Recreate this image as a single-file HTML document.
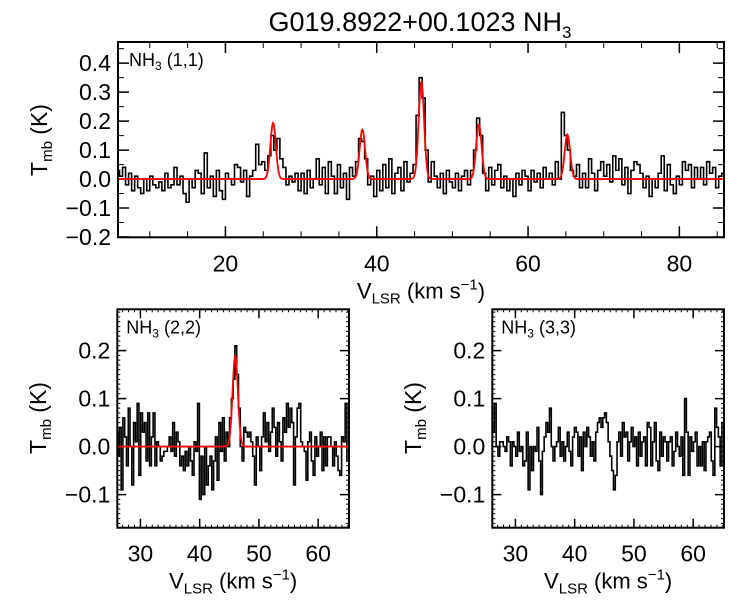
<!DOCTYPE html>
<html><head><meta charset="utf-8"><style>
body{margin:0;background:#fff}
svg{display:block}
text{font-family:"Liberation Sans",Arial,sans-serif;fill:#000}
</style></head><body>
<svg id="c" width="750" height="600" viewBox="0 0 750 600">
<text x="420" y="31" font-size="27" text-anchor="middle">G019.8922+00.1023 NH<tspan font-size="17" dy="7">3</tspan></text>
</svg>
<script>
// ---- data ----
const topStart = 5.8, topStep = 0.4;
const topSpec = [0.03,0.01,0.04,-0.02,0.02,-0.04,0.01,-0.03,-0.05,0.00,-0.04,0.01,-0.02,-0.03,-0.01,-0.04,0.02,-0.03,-0.02,0.04,
-0.02,0.01,-0.05,-0.08,0.00,-0.03,0.03,0.02,-0.05,0.09,-0.03,0.01,-0.06,0.03,-0.04,-0.07,0.02,0.00,-0.02,0.05,
0.04,-0.01,0.03,-0.06,0.01,0.03,0.12,0.05,0.06,0.03,0.08,0.15,0.10,0.14,0.07,0.04,-0.02,0.01,-0.01,0.02,
-0.04,0.02,-0.05,0.03,-0.03,0.00,0.07,-0.02,0.04,-0.05,0.06,0.01,-0.05,0.05,-0.03,0.02,-0.07,0.04,0.01,0.06,
0.14,0.13,0.07,-0.02,0.01,-0.06,0.03,-0.04,0.05,-0.03,0.07,-0.05,0.02,0.04,-0.04,0.06,-0.01,0.02,0.05,0.22,
0.35,0.28,0.10,-0.01,0.06,0.01,-0.03,0.02,-0.05,0.03,-0.01,-0.03,0.02,-0.04,0.01,0.03,-0.02,0.03,0.10,0.21,
0.15,0.02,-0.04,0.04,-0.02,0.03,0.05,-0.03,0.01,-0.04,0.00,-0.06,0.02,-0.02,0.03,0.01,-0.04,0.03,-0.01,0.02,
-0.03,0.04,0.00,0.02,-0.02,0.06,0.00,0.23,0.15,0.10,0.03,0.01,0.05,-0.03,0.02,-0.03,0.07,0.02,-0.04,0.03,
0.06,0.01,0.05,-0.01,0.08,0.03,0.07,-0.02,0.04,-0.05,0.03,0.06,0.05,0.02,-0.03,0.01,-0.06,0.00,-0.03,0.02,
0.08,-0.04,0.05,-0.02,-0.05,0.01,-0.02,0.06,0.03,0.05,-0.03,0.04,0.00,0.04,-0.02,0.06,0.02,0.04,-0.03,0.01,0.02];
const topFitCenters = [26.3, 38.1, 45.9, 53.5, 65.2];
const topFitAmps = [0.194, 0.171, 0.336, 0.189, 0.154];
const topFitSigma = 0.36;

const botStart = 26.0, botStep = 0.3;
const spec22 = [0.03,-0.02,0.04,-0.09,0.06,0.02,-0.04,0.08,0.00,-0.08,0.05,0.01,0.09,-0.06,0.07,0.03,0.05,-0.03,0.07,-0.04,
0.02,0.07,-0.04,0.01,0.00,-0.03,-0.02,-0.01,-0.01,0.00,0.02,-0.01,0.05,-0.02,0.03,0.01,-0.04,-0.02,-0.05,-0.01,
-0.04,0.00,-0.03,-0.06,0.01,-0.01,0.09,-0.11,-0.02,-0.10,0.00,-0.08,-0.04,-0.02,-0.09,-0.03,0.02,-0.07,0.05,-0.01,
0.06,-0.03,0.03,0.00,0.06,0.10,0.14,0.21,0.15,0.08,0.00,-0.03,0.04,0.03,0.02,0.03,0.01,-0.02,-0.08,0.02,
0.00,-0.05,0.02,0.07,0.01,0.05,-0.01,0.03,0.08,0.04,-0.02,0.05,0.01,-0.03,0.06,0.03,0.09,0.04,0.08,0.05,
-0.08,0.02,0.08,0.09,0.01,0.00,-0.01,-0.07,0.01,0.03,-0.03,-0.06,0.02,-0.02,0.00,0.03,-0.05,0.02,-0.04,0.02,
0.02,0.00,-0.04,0.01,-0.02,-0.05,-0.06,0.02,0.01,0.09,-0.03];
const fit22Centers = [46.0];
const fit22Amps = [0.189];
const fit22Sigma = 0.45;
const spec33 = [0.05,0.03,0.09,0.00,-0.02,0.01,0.01,0.00,-0.01,0.02,0.01,-0.04,0.01,0.00,-0.02,0.03,-0.01,0.00,-0.04,-0.03,
0.03,-0.09,0.00,-0.05,0.00,-0.01,0.04,-0.03,-0.10,-0.01,0.02,0.05,0.03,0.08,0.00,-0.03,0.00,0.01,0.04,-0.02,
0.01,-0.03,0.00,0.03,-0.01,-0.04,0.02,0.04,0.03,-0.02,0.02,-0.05,0.03,0.00,0.04,0.02,-0.02,0.01,-0.03,0.03,
0.05,0.06,0.04,0.06,0.07,0.05,0.01,-0.02,-0.05,-0.09,-0.06,0.01,0.03,-0.02,0.05,0.02,0.03,-0.03,0.01,0.04,
0.00,0.02,-0.04,0.03,-0.02,0.01,0.02,-0.04,0.05,0.04,-0.04,0.01,0.05,-0.03,-0.05,0.03,-0.02,0.02,0.01,-0.03,
0.01,0.02,-0.04,-0.01,0.03,0.00,-0.02,0.02,-0.06,0.10,0.03,-0.06,0.02,-0.01,0.01,0.03,-0.04,0.00,-0.04,0.01,
-0.05,0.01,0.02,0.03,-0.03,-0.06,0.08,0.04,0.02,-0.04,0.05];
const topXTicks = [20, 40, 60, 80];
const topYTicks = [-0.2, -0.1, 0.0, 0.1, 0.2, 0.3, 0.4];
const botXTicks = [30, 40, 50, 60];
const botYTicks = [-0.1, 0.0, 0.1, 0.2];

// ---- drawing ----
const svg = document.getElementById('c');
const NS = 'http://www.w3.org/2000/svg';
function mk(tag, attrs, parent){const e=document.createElementNS(NS,tag);for(const k in attrs)e.setAttribute(k,attrs[k]);(parent||svg).appendChild(e);return e;}

function panel(o){
  const g = mk('g',{});
  
  
  const X = v => o.x0 + (v - o.xmin) / (o.xmax - o.xmin) * (o.x1 - o.x0);
  const Y = v => o.y1 - (v - o.ymin) / (o.ymax - o.ymin) * (o.y1 - o.y0);
  let mt = '';
  for (let v = Math.ceil(o.xmin / o.xminor) * o.xminor; v <= o.xmax; v += o.xminor) {
    const px = X(v); mt += `M${px},${o.y1}v${-o.mlen}M${px},${o.y0}v${o.mlen}`;
  }
  for (let k = Math.ceil(o.ymin / o.yminor - 1e-6); k * o.yminor <= o.ymax + 1e-9; k++) {
    const py = Y(k * o.yminor); mt += `M${o.x0},${py}h${o.mlen}M${o.x1},${py}h${-o.mlen}`;
  }
  mk('path',{d:mt,stroke:'#000','stroke-width':1,fill:'none'},g);
  let Mt = '';
  o.xt.forEach(v => {
    const px = X(v); Mt += `M${px},${o.y1}v-${o.Mlen}M${px},${o.y0}v${o.Mlen}`;
    const t = mk('text',{x:px,y:o.y1+34,'font-size':23,'text-anchor':'middle'},g); t.textContent = v;
    
    
  });
  o.yt.forEach(v => {
    const py = Y(v); Mt += `M${o.x0},${py}h${o.Mlen}M${o.x1},${py}h-${o.Mlen}`;
    const t = mk('text',{x:o.x0-7,y:py+8,'font-size':23,'text-anchor':'end'},g);
    t.textContent = (v < 0 ? '\u2212' : '') + Math.abs(v).toFixed(1);
    
    
  });
  mk('path',{d:Mt,stroke:'#000','stroke-width':1.5,fill:'none'},g);
  const cid = 'clip' + o.name;
  const cp = mk('clipPath',{id:cid},g); mk('rect',{x:o.x0,y:o.y0,width:o.x1-o.x0,height:o.y1-o.y0},cp);
  let d = '';
  o.spec.forEach((v, i) => {
    const c = o.start + i * o.step, a = X(c - o.step/2), b = X(c + o.step/2), py = Y(v);
    d += (i === 0 ? `M${a},${py}` : `L${a},${py}`) + `L${b},${py}`;
  });
  const sp = mk('path',{d:d,stroke:'#000','stroke-width':1.6,fill:'none','clip-path':`url(#${cid})`},g);
  
  
  if (o.centers) {
    let f = '';
    for (let px = o.x0; px <= o.x1; px += 0.5) {
      const v = o.xmin + (px - o.x0) / (o.x1 - o.x0) * (o.xmax - o.xmin);
      let s = 0; o.centers.forEach((c, k) => { s += o.amps[k] * Math.exp(-0.5 * ((v - c) / o.sigma) ** 2); });
      f += (px === o.x0 ? 'M' : 'L') + px + ',' + Y(s);
    }
    const fp = mk('path',{d:f,stroke:'#f00','stroke-width':1.8,fill:'none','clip-path':`url(#${cid})`},g);
    
    
  }
  const fr = mk('rect',{x:o.x0,y:o.y0,width:o.x1-o.x0,height:o.y1-o.y0,fill:'none',stroke:'#000','stroke-width':2},g);
  
  
  const lb = mk('text',{x:o.x0+o.lx,y:o.y0+24,'font-size':18},g);
  lb.innerHTML = 'NH<tspan font-size="12" dy="4">3</tspan><tspan dy="-4"> ' + o.label + '</tspan>';
  
  
  const xt = mk('text',{x:(o.x0+o.x1)/2,y:o.y1+61,'font-size':22,'text-anchor':'middle'},g);
  xt.innerHTML = 'V<tspan font-size="15" dy="5">LSR</tspan><tspan dy="-5"> (km s</tspan><tspan font-size="15" dy="-9">\u22121</tspan><tspan dy="9">)</tspan>';
  
  
  const yt = mk('text',{x:0,y:0,'font-size':23,'text-anchor':'middle',transform:`translate(${o.ytx},${o.ytc}) rotate(-90)`},g);
  yt.innerHTML = 'T<tspan font-size="15" dy="5">mb</tspan><tspan dy="-5"> (K)</tspan>';
  
  
}

panel({name:'panel-nh3-11',x0:118,x1:724,y0:42,y1:237.3,xmin:5.8,xmax:85.9,ymin:-0.201,ymax:0.473,
  xminor:5,yminor:0.05,mlen:6,Mlen:11,xt:topXTicks,yt:topYTicks,spec:topSpec,start:topStart,step:topStep,
  centers:topFitCenters,amps:topFitAmps,sigma:topFitSigma,label:'(1,1)',lx:11,ytx:47,ytc:140});
panel({name:'panel-nh3-22',x0:117.3,x1:349,y0:309.3,y1:527.7,xmin:26.1,xmax:65.2,ymin:-0.169,ymax:0.286,
  xminor:1,yminor:0.01,mlen:3,Mlen:9,xt:botXTicks,yt:botYTicks,spec:spec22,start:botStart,step:botStep,
  centers:fit22Centers,amps:fit22Amps,sigma:fit22Sigma,label:'(2,2)',lx:9,ytx:46,ytc:418});
panel({name:'panel-nh3-33',x0:492.3,x1:724,y0:309.3,y1:527.7,xmin:26.1,xmax:65.2,ymin:-0.169,ymax:0.286,
  xminor:1,yminor:0.01,mlen:3,Mlen:9,xt:botXTicks,yt:botYTicks,spec:spec33,start:botStart,step:botStep,
  label:'(3,3)',lx:9,ytx:421,ytc:418});
</script>
</body></html>
